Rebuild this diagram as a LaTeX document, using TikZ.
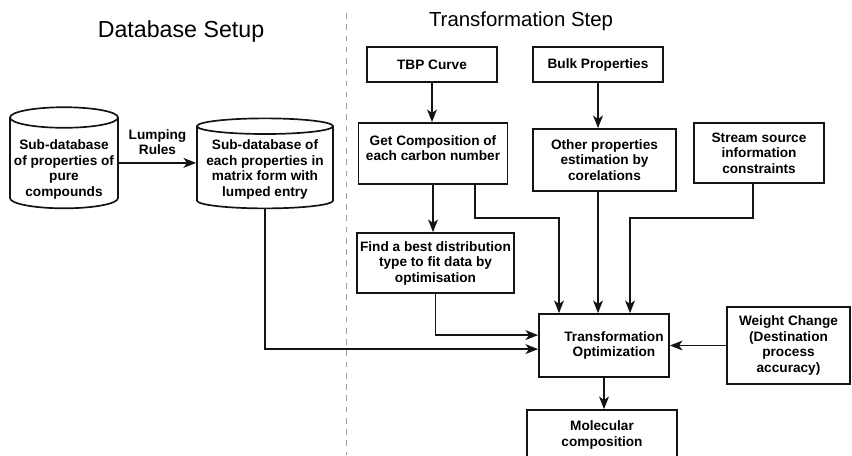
\documentclass[tikz,border=0pt]{standalone}
\usepackage{fontspec}
\setmainfont{Liberation Sans}
\usepackage{xcolor}
\usepackage{tikz}
\usetikzlibrary{shapes.geometric, arrows, arrows.meta, positioning, calc}
\definecolor{boxline}{RGB}{20, 20, 20}
\definecolor{splitgray}{RGB}{160, 160, 160}

\tikzset{
    stepbox/.style={draw=boxline, line width=1.2pt, align=center, inner sep=2pt,
        font=\fontsize{9.7}{11}\selectfont\bfseries},
    dbase/.style={cylinder, shape border rotate=90, draw=boxline, line width=1.2pt,
        align=center, inner sep=1pt, font=\fontsize{9.7}{11}\selectfont\bfseries},
    flow/.style={-{Stealth[length=9pt, width=7pt, inset=2.5pt]}, line width=1.1pt, draw=boxline},
    title/.style={font=\fontsize{14.5}{16}\selectfont}
}

\begin{document}
\begin{tikzpicture}[x=0.025cm, y=-0.025cm]
    \useasboundingbox (0,0) rectangle (852,455);

    % section titles and split
    \node[title, font=\fontsize{16.5}{18}\selectfont] (dbtitle) at (181,31) {Database Setup};
    \node[title] (trtitle) at (521,21) {Transformation Step};
    \draw[splitgray, line width=0.6pt, dash pattern=on 4pt off 4pt] (346,13) -- (346,455);

    % database side
    \node[dbase, aspect=0.2, minimum width=2.7cm, minimum height=2.4cm] (puredb) at (64,164.5)
        {\mbox{}\\[3pt]Sub-database\\of properties of\\pure\\compounds};
    \node[dbase, aspect=0.13, minimum width=3.4cm, minimum height=2.25cm] (lumpdb) at (265,168.5)
        {\mbox{}\\[-2.5pt]Sub-database of\\each properties in\\matrix form with\\lumped entry};
    \coordinate (lumpin) at ([yshift=0.14cm]lumpdb.west);
    \draw[flow] (puredb.east |- lumpin) -- node[above, align=center, yshift=2pt,
        font=\fontsize{9.7}{11}\selectfont\bfseries] (lumprule) {Lumping\\Rules} (lumpin);

    % transformation side
    \node[stepbox, minimum width=3.25cm, minimum height=0.875cm] (tbp) at (432,64.5) {TBP Curve};
    \node[stepbox, minimum width=3.25cm, minimum height=0.875cm] (bulk) at (598,64.5) {Bulk Properties};
    \node[stepbox, minimum width=3.725cm, minimum height=1.525cm] (getcomp) at (433,153.5)
        {Get Composition of\\each carbon number\\[-3pt]};
    \node[stepbox, minimum width=3.575cm, minimum height=1.55cm] (other) at (604.5,160)
        {Other properties\\estimation by\\corelations};
    \node[stepbox, minimum width=3.25cm, minimum height=1.5cm] (stream) at (759,153)
        {Stream source\\information\\constraints};
    \node[stepbox, minimum width=3.925cm, minimum height=1.5cm] (findbest) at (435.5,263)
        {Find a best distribution\\type to fit data by\\optimisation};
    \node[stepbox, minimum width=3.25cm, minimum height=1.575cm] (transf) at (604,345.5)
        {\hspace*{0.5cm}Transformation\\\hspace*{0.5cm}Optimization};
    \node[stepbox, minimum width=3.075cm, minimum height=1.925cm] (weight) at (788.5,345.5)
        {Weight Change\\(Destination\\process\\accuracy)};
    \node[stepbox, minimum width=3.75cm, minimum height=1.25cm] (molcomp) at (602,435)
        {Molecular\\composition};

    % junction points
    \coordinate (jleft) at (559,218);
    \coordinate (jright) at (630,218);

    % connectors
    \draw[flow] (tbp.south) -- (tbp.south |- getcomp.north);
    \draw[flow] (bulk.south) -- (bulk.south |- other.north);
    \draw[flow] (getcomp.south) -- (getcomp.south |- findbest.north);
    \draw[flow] ([xshift=1.05cm]getcomp.south) |- (jleft) -- (jleft |- transf.north);
    \draw[flow] (bulk.south |- other.south) -- (bulk.south |- transf.north);
    \draw[flow] ([xshift=-0.15cm]stream.south) |- (jright) -- (jright |- transf.north);
    \draw[flow] (findbest.south) |- ([yshift=0.26cm]transf.west);
    \draw[flow] (lumpdb.south) |- ([yshift=-0.09cm]transf.west);
    \draw[flow] (weight.west) -- (transf.east);
    \draw[flow] (transf.south) -- (transf.south |- molcomp.north);
\end{tikzpicture}
\end{document}
